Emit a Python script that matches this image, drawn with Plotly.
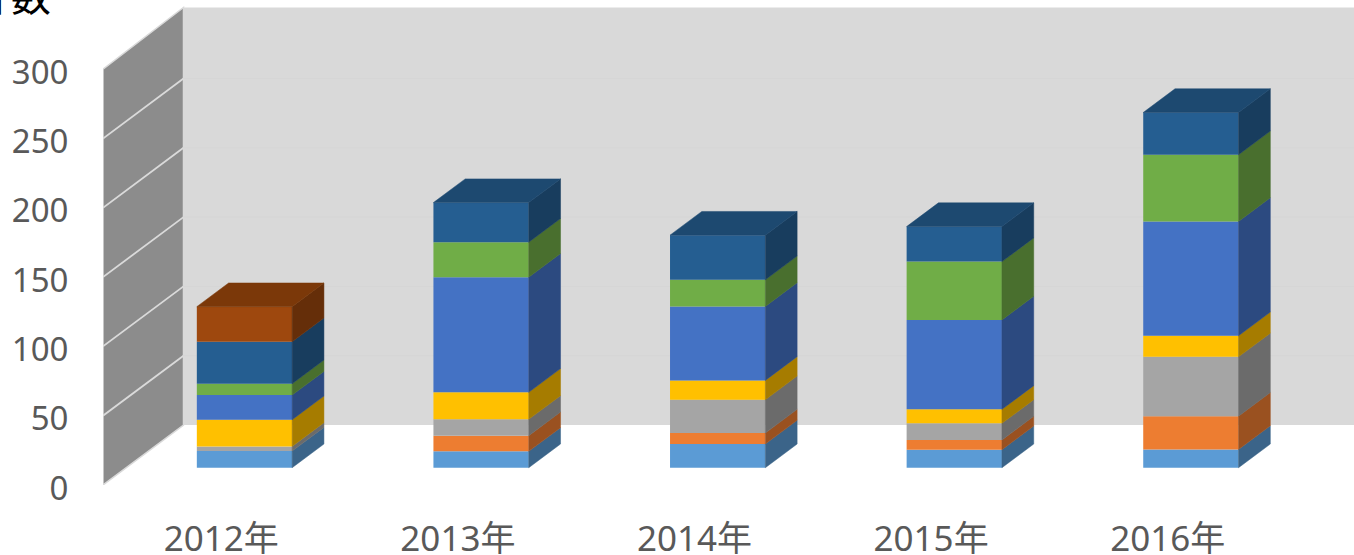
import plotly.graph_objects as go

categories = ["2012年", "2013年", "2014年", "2015年", "2016年"]
y_ticks = [0, 50, 100, 150, 200, 250, 300]
axis_title = "計数"

s1_light_blue = [12.0, 11.8, 17.1, 13.0, 13.2]
s2_orange = [0.0, 11.3, 7.9, 7.0, 24.0]
s3_gray = [3.4, 11.8, 24.0, 12.0, 42.8]
s4_yellow = [19.2, 19.5, 14.0, 10.1, 15.2]
s5_blue = [17.8, 83.0, 53.4, 64.5, 82.5]
s6_green = [8.2, 25.3, 19.2, 42.1, 48.1]
s7_dark_blue = [30.3, 28.6, 32.2, 25.3, 30.5]
s8_brown = [25.3, 0.0, 0.0, 0.0, 0.0]

series = [s1_light_blue, s2_orange, s3_gray, s4_yellow, s5_blue, s6_green, s7_dark_blue, s8_brown]
front_colors = ["#5B9BD5", "#ED7D31", "#A5A5A5", "#FFC000", "#4472C4", "#70AD47", "#255E91", "#9E480E"]
side_colors = ["#3B6489", "#9A5120", "#6B6B6B", "#A67C00", "#2C4A80", "#496F2E", "#183D5E", "#652E09"]
top_colors = ["#47789F", "#B85F26", "#808080", "#C79500", "#355A99", "#578637", "#1D4970", "#7B3809"]

# oblique projection of the chart box, in axis units
PX_X = 236.6
PX_Y = 1.386
DEPTH_X = 80.5 / PX_X
DEPTH_Y = 60 / PX_Y
BAR_D0 = 0.288
BAR_D1 = 0.683
BAR_W = 95.3 / PX_X
X_MIN = -0.5
X_MAX = X_MIN + (1354 - 103) / PX_X
Y_MAX = 485 / PX_Y


def proj(x, v, d):
    return x + d * DEPTH_X, v + d * DEPTH_Y


shapes = []


def poly(points, fill, line=None, width=0):
    path = "M " + " L ".join(f"{a},{b}" for a, b in points) + " Z"
    shapes.append(dict(type="path", path=path, xref="x", yref="y", layer="below",
                       fillcolor=fill, line=dict(color=line or fill, width=width)))


def seg(p, q, color, width):
    shapes.append(dict(type="line", xref="x", yref="y", layer="below",
                       x0=p[0], y0=p[1], x1=q[0], y1=q[1], line=dict(color=color, width=width)))


top = y_ticks[-1]
wall_top = top + 1.3
right = X_MIN + len(categories)
poly([proj(X_MIN, 0, 1), proj(right, 0, 1), proj(right, wall_top, 1), proj(X_MIN, wall_top, 1)], "#D9D9D9")
poly([proj(X_MIN, 0, 0), proj(X_MIN, 0, 1), proj(X_MIN, wall_top, 1), proj(X_MIN, top, 0)],
     "#8C8C8C", "#D9D9D9", 1.5)
for t in y_ticks[1:-1]:
    seg(proj(X_MIN, t, 0), proj(X_MIN, t, 1), "#DADADA", 1.8)
    seg(proj(X_MIN, t, 1), proj(right, t, 1), "#D6D6D6", 1)

fig = go.Figure()
cum = [BAR_D0 * DEPTH_Y] * len(categories)
xs_front = [i + BAR_D0 * DEPTH_X for i in range(len(categories))]

for values, fc, sc, tc in zip(series, front_colors, side_colors, top_colors):
    fig.add_trace(go.Bar(x=xs_front, y=values, base=list(cum), width=BAR_W,
                         marker=dict(color=fc, line=dict(width=0)), showlegend=False))
    sx, sy = [], []
    for i, val in enumerate(values):
        if val <= 0:
            continue
        b = cum[i] - BAR_D0 * DEPTH_Y
        xr = i + BAR_W / 2
        corners = [proj(xr, b, BAR_D0), proj(xr, b, BAR_D1),
                   proj(xr, b + val, BAR_D1), proj(xr, b + val, BAR_D0), proj(xr, b, BAR_D0)]
        sx += [c[0] for c in corners] + [None]
        sy += [c[1] for c in corners] + [None]
    fig.add_trace(go.Scatter(x=sx, y=sy, mode="lines", line=dict(width=0.5, color=sc),
                             fill="toself", fillcolor=sc, showlegend=False))
    cum = [c + v for c, v in zip(cum, values)]

for i in range(len(categories)):
    last = max(k for k, s in enumerate(series) if s[i] > 0)
    b = cum[i] - BAR_D0 * DEPTH_Y
    xl, xr = i - BAR_W / 2, i + BAR_W / 2
    corners = [proj(xl, b, BAR_D0), proj(xr, b, BAR_D0), proj(xr, b, BAR_D1), proj(xl, b, BAR_D1), proj(xl, b, BAR_D0)]
    fig.add_trace(go.Scatter(x=[c[0] for c in corners], y=[c[1] for c in corners], mode="lines",
                             line=dict(width=0.5, color=top_colors[last]), fill="toself",
                             fillcolor=top_colors[last], showlegend=False))

fig.update_layout(
    width=1354, height=555, margin=dict(l=103, r=0, t=0, b=70),
    paper_bgcolor="white", plot_bgcolor="white", barmode="overlay", shapes=shapes,
    font=dict(family="Noto Sans, Noto Sans CJK JP", size=33, color="#595959"),
    xaxis=dict(range=[X_MIN, X_MAX], tickmode="array", tickvals=list(range(len(categories))),
               ticktext=categories, showgrid=False, zeroline=False, showline=False,
               ticks="outside", ticklen=23, tickcolor="rgba(0,0,0,0)", automargin=False,
               tickfont=dict(size=35)),
    yaxis=dict(range=[0, Y_MAX], tickmode="array", tickvals=y_ticks, showgrid=False,
               zeroline=False, showline=False, ticks="outside", ticklen=27,
               tickcolor="rgba(0,0,0,0)", automargin=False, ticklabelshift=3),
    annotations=[dict(text=axis_title, xref="paper", yref="paper", x=-0.0735, y=1.012,
                      xanchor="center", yanchor="middle", showarrow=False,
                      font=dict(family="Noto Sans CJK JP", size=40, color="black"))],
)

fig.write_html("out.html", config={"displayModeBar": False},
               post_script="document.body.style.margin='0';document.body.style.overflow='hidden';")
